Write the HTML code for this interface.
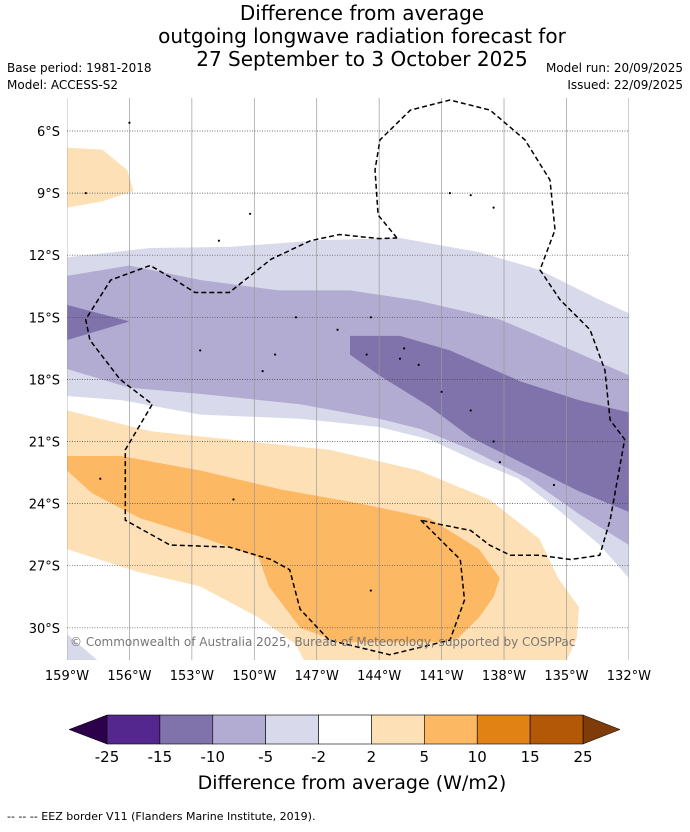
<!DOCTYPE html>
<html><head><meta charset="utf-8"><style>
body{margin:0;background:#fff;width:690px;height:827px;overflow:hidden;font-family:"Liberation Sans","DejaVu Sans",sans-serif}
svg text{font-family:"DejaVu Sans","Liberation Sans",sans-serif}
</style></head><body>
<svg id="c" width="690" height="827" xmlns="http://www.w3.org/2000/svg">
<text x="362" y="20" font-size="20" text-anchor="middle">Difference from average</text>
<text x="362" y="43" font-size="20" text-anchor="middle">outgoing longwave radiation forecast for</text>
<text x="362" y="66" font-size="20" text-anchor="middle">27 September to 3 October 2025</text>
<text x="7" y="72" font-size="12">Base period: 1981-2018</text>
<text x="7" y="89" font-size="12">Model: ACCESS-S2</text>
<text x="683" y="72" font-size="12" text-anchor="end">Model run: 20/09/2025</text>
<text x="683" y="89" font-size="12" text-anchor="end">Issued: 22/09/2025</text>
<g id="map"></g>
<g id="cbar"></g>
<text x="352" y="789" font-size="19" text-anchor="middle">Difference from average (W/m2)</text>
<text x="7" y="820" font-size="11">-- -- -- EEZ border V11 (Flanders Marine Institute, 2019).</text>
</svg>
<script>
const lonTicks=[-159,-156,-153,-150,-147,-144,-141,-138,-135,-132];
const lonLabels=["159°W","156°W","153°W","150°W","147°W","144°W","141°W","138°W","135°W","132°W"];
const latTicks=[-6,-9,-12,-15,-18,-21,-24,-27,-30];
const latLabels=["6°S","9°S","12°S","15°S","18°S","21°S","24°S","27°S","30°S"];
const levels=["-25","-15","-10","-5","-2","2","5","10","15","25"];
const levelColors=["#54278f","#8073ac","#b2abd2","#d8daeb","#ffffff","#fee0b6","#fdb863","#e08214","#b35806"];
const lightPurple=[[-159,-12.1],[-155,-11.65],[-151.2,-11.6],[-146.8,-11.27],[-143,-11.17],[-139.2,-11.85],[-136.3,-12.7],[-133.4,-14.16],[-132,-14.8],[-132,-27.6],[-133.4,-26],[-135.4,-24.3],[-137.3,-22.8],[-139.2,-22],[-141.6,-20.9],[-144,-20.3],[-147.8,-19.9],[-152.6,-19.7],[-156.4,-19],[-159,-18.8]];
const midPurple=[[-159,-13],[-156,-12.5],[-152.6,-13.2],[-148.8,-13.7],[-145.4,-13.7],[-142.1,-14.2],[-138.2,-15.1],[-135.4,-16.3],[-132,-17.8],[-132,-26],[-134.4,-24.5],[-136.8,-22.8],[-139.6,-21.4],[-142,-20.4],[-144,-19.9],[-147.8,-19.2],[-152.6,-18.7],[-156,-18.4],[-159,-17.5]];
const darkPurpleA=[[-159,-14.4],[-156,-15.2],[-159,-16.1]];
const darkPurpleB=[[-145.4,-15.9],[-143,-15.9],[-140.6,-16.6],[-137.2,-18.1],[-134.4,-19],[-132,-19.6],[-132,-24.4],[-134.4,-23.4],[-137.2,-22],[-139.6,-20.8],[-141.6,-19.3],[-144,-17.8],[-145.4,-16.8]];
const lightOrangeA=[[-159,-6.8],[-157.3,-6.9],[-156.1,-7.9],[-155.8,-8.9],[-157.3,-9.4],[-159,-9.7]];
const lightOrangeB=[[-159,-19.5],[-155,-20.5],[-151.2,-20.9],[-146.4,-21.4],[-142.1,-22.4],[-138.7,-23.8],[-136.3,-25.7],[-135.4,-27.6],[-134.4,-29],[-134.5,-30.5],[-135,-31.6],[-147.6,-31.6],[-148,-30.8],[-149.8,-29.5],[-152.6,-28],[-155.6,-27.3],[-159,-26.2]];
const orange=[[-159,-21.7],[-156.4,-21.7],[-152.6,-22.4],[-148.8,-23.3],[-144.9,-24],[-141.6,-24.7],[-139.2,-26.2],[-138.2,-27.6],[-138.5,-28.5],[-139.2,-29.5],[-140.2,-30.5],[-141.1,-30.7],[-145.9,-30.7],[-147.8,-30],[-149.3,-28],[-149.8,-26.6],[-152.6,-25.6],[-155.5,-24.7],[-157.8,-23.5],[-159,-22.4]];
const eezA=[[-143.14,-11.17],[-144.05,-10.06],[-144.2,-7.88],[-143.96,-6.43],[-142.5,-4.99],[-140.6,-4.5],[-138.67,-4.99],[-136.99,-6.43],[-135.79,-8.37],[-135.55,-10.78],[-136.27,-12.71],[-135.3,-14.16],[-133.87,-15.6],[-133.15,-17.55],[-132.9,-19.96],[-132.2,-20.9],[-132.9,-24.8],[-133.4,-26.5],[-134.8,-26.7],[-136.3,-26.5],[-137.7,-26.5],[-138.7,-26],[-139.6,-25.3],[-141.1,-25],[-142,-24.8]];
const eezB=[[-142,-24.8],[-140.1,-26.7],[-139.9,-28.66],[-140.6,-30.6],[-143.5,-31.3],[-146.4,-30.6],[-147.8,-29.1],[-148.3,-27.2],[-149.2,-26.7],[-151.2,-26.1],[-154.05,-26],[-156.2,-24.8],[-156.2,-21.4],[-154.9,-19.2],[-156.45,-18],[-157.9,-16.1],[-158.1,-15.1],[-156.9,-13.2],[-155,-12.5],[-153.8,-13.2],[-152.85,-13.8],[-151.2,-13.8],[-149.2,-12.2],[-147.3,-11.3],[-145.9,-11.0],[-144,-11.2],[-143.14,-11.17]];
const islands=[[-156,-5.6],[-158.1,-9.0],[-150.2,-10.0],[-151.7,-11.3],[-144.4,-15.0],[-146,-15.6],[-148,-15.0],[-149,-16.8],[-144.6,-16.8],[-143,-17.0],[-142.1,-17.3],[-141,-18.6],[-139.6,-19.5],[-138.5,-21.0],[-140.6,-9.0],[-139.6,-9.1],[-138.5,-9.7],[-152.6,-16.6],[-149.6,-17.6],[-142.8,-16.5],[-151,-23.8],[-144.4,-28.2],[-135.6,-23.1],[-157.4,-22.8],[-138.2,-22.0]];
const X=lon=>67+(lon+159)*20.81, Y=lat=>131+(-lat-6)*20.7;
const NS="http://www.w3.org/2000/svg";
const map=document.getElementById('map'), cb=document.getElementById('cbar');
function mk(tag,attrs,parent){const e=document.createElementNS(NS,tag);for(const k in attrs)e.setAttribute(k,attrs[k]);parent.appendChild(e);return e;}
const cp=mk('clipPath',{id:'clip'},map);mk('rect',{x:67,y:98,width:562,height:562},cp);
const g=mk('g',{'clip-path':'url(#clip)'},map);
const pts=a=>a.map(p=>X(p[0]).toFixed(1)+','+Y(p[1]).toFixed(1)).join(' ');
function poly(a,fill,name){const e=mk('polygon',{points:pts(a),fill:fill},g);

}
poly(lightPurple,levelColors[3],'contour-minus2-to-minus5');
poly(midPurple,levelColors[2],'contour-minus5-to-minus10');
poly(darkPurpleA,levelColors[1],'contour-minus10-to-minus15-west');
poly(darkPurpleB,levelColors[1],'contour-minus10-to-minus15-east');
poly(lightOrangeA,levelColors[5],'contour-2-to-5-north');
poly(lightOrangeB,levelColors[5],'contour-2-to-5-south');
poly(orange,levelColors[6],'contour-5-to-10');
poly([[-159,-30.3],[-157.5,-31.6],[-159,-31.6]],levelColors[3],'contour-corner-purple');
lonTicks.forEach((v,i)=>{const l=mk('line',{x1:X(v),x2:X(v),y1:98,y2:660,stroke:'#999','stroke-width':0.7},g);


const t=mk('text',{x:X(v),y:680,'font-size':13,'text-anchor':'middle'},map);t.textContent=lonLabels[i];

});
latTicks.forEach((v,i)=>{const l=mk('line',{x1:67,x2:629,y1:Y(v),y2:Y(v),stroke:'#444','stroke-width':0.7,'stroke-dasharray':'1,1.5'},g);


const t=mk('text',{x:60,y:Y(v)+5,'font-size':13,'text-anchor':'end'},map);t.textContent=latLabels[i];

});
islands.forEach(p=>{const e=mk('circle',{cx:X(p[0]),cy:Y(p[1]),r:1.1,fill:'#000'},g);

});
[eezA,eezB].forEach(a=>{const e=mk('polyline',{points:pts(a),fill:'none',stroke:'#000','stroke-width':1.5,'stroke-dasharray':'5,3'},g);

});
const cr=mk('text',{x:70,y:646,'font-size':12,fill:'#777'},map);cr.textContent='© Commonwealth of Australia 2025, Bureau of Meteorology, supported by COSPPac';


const x0=107,w=(583-107)/levelColors.length,y0=715,h=29;
const lt=mk('polygon',{points:`69,${y0+h/2} ${x0},${y0} ${x0},${y0+h}`,fill:'#2d004b',stroke:'#000','stroke-width':0.5},cb);


const rt=mk('polygon',{points:`620,${y0+h/2} 583,${y0} 583,${y0+h}`,fill:'#7f3b08',stroke:'#000','stroke-width':0.5},cb);


levelColors.forEach((c,i)=>{const r=mk('rect',{x:x0+i*w,y:y0,width:w,height:h,fill:c,stroke:'#000','stroke-width':0.6},cb);

});
levels.forEach((s,i)=>{const t=mk('text',{x:x0+i*w,y:762,'font-size':15,'text-anchor':'middle'},cb);t.textContent=s;

});
</script>
</body></html>
